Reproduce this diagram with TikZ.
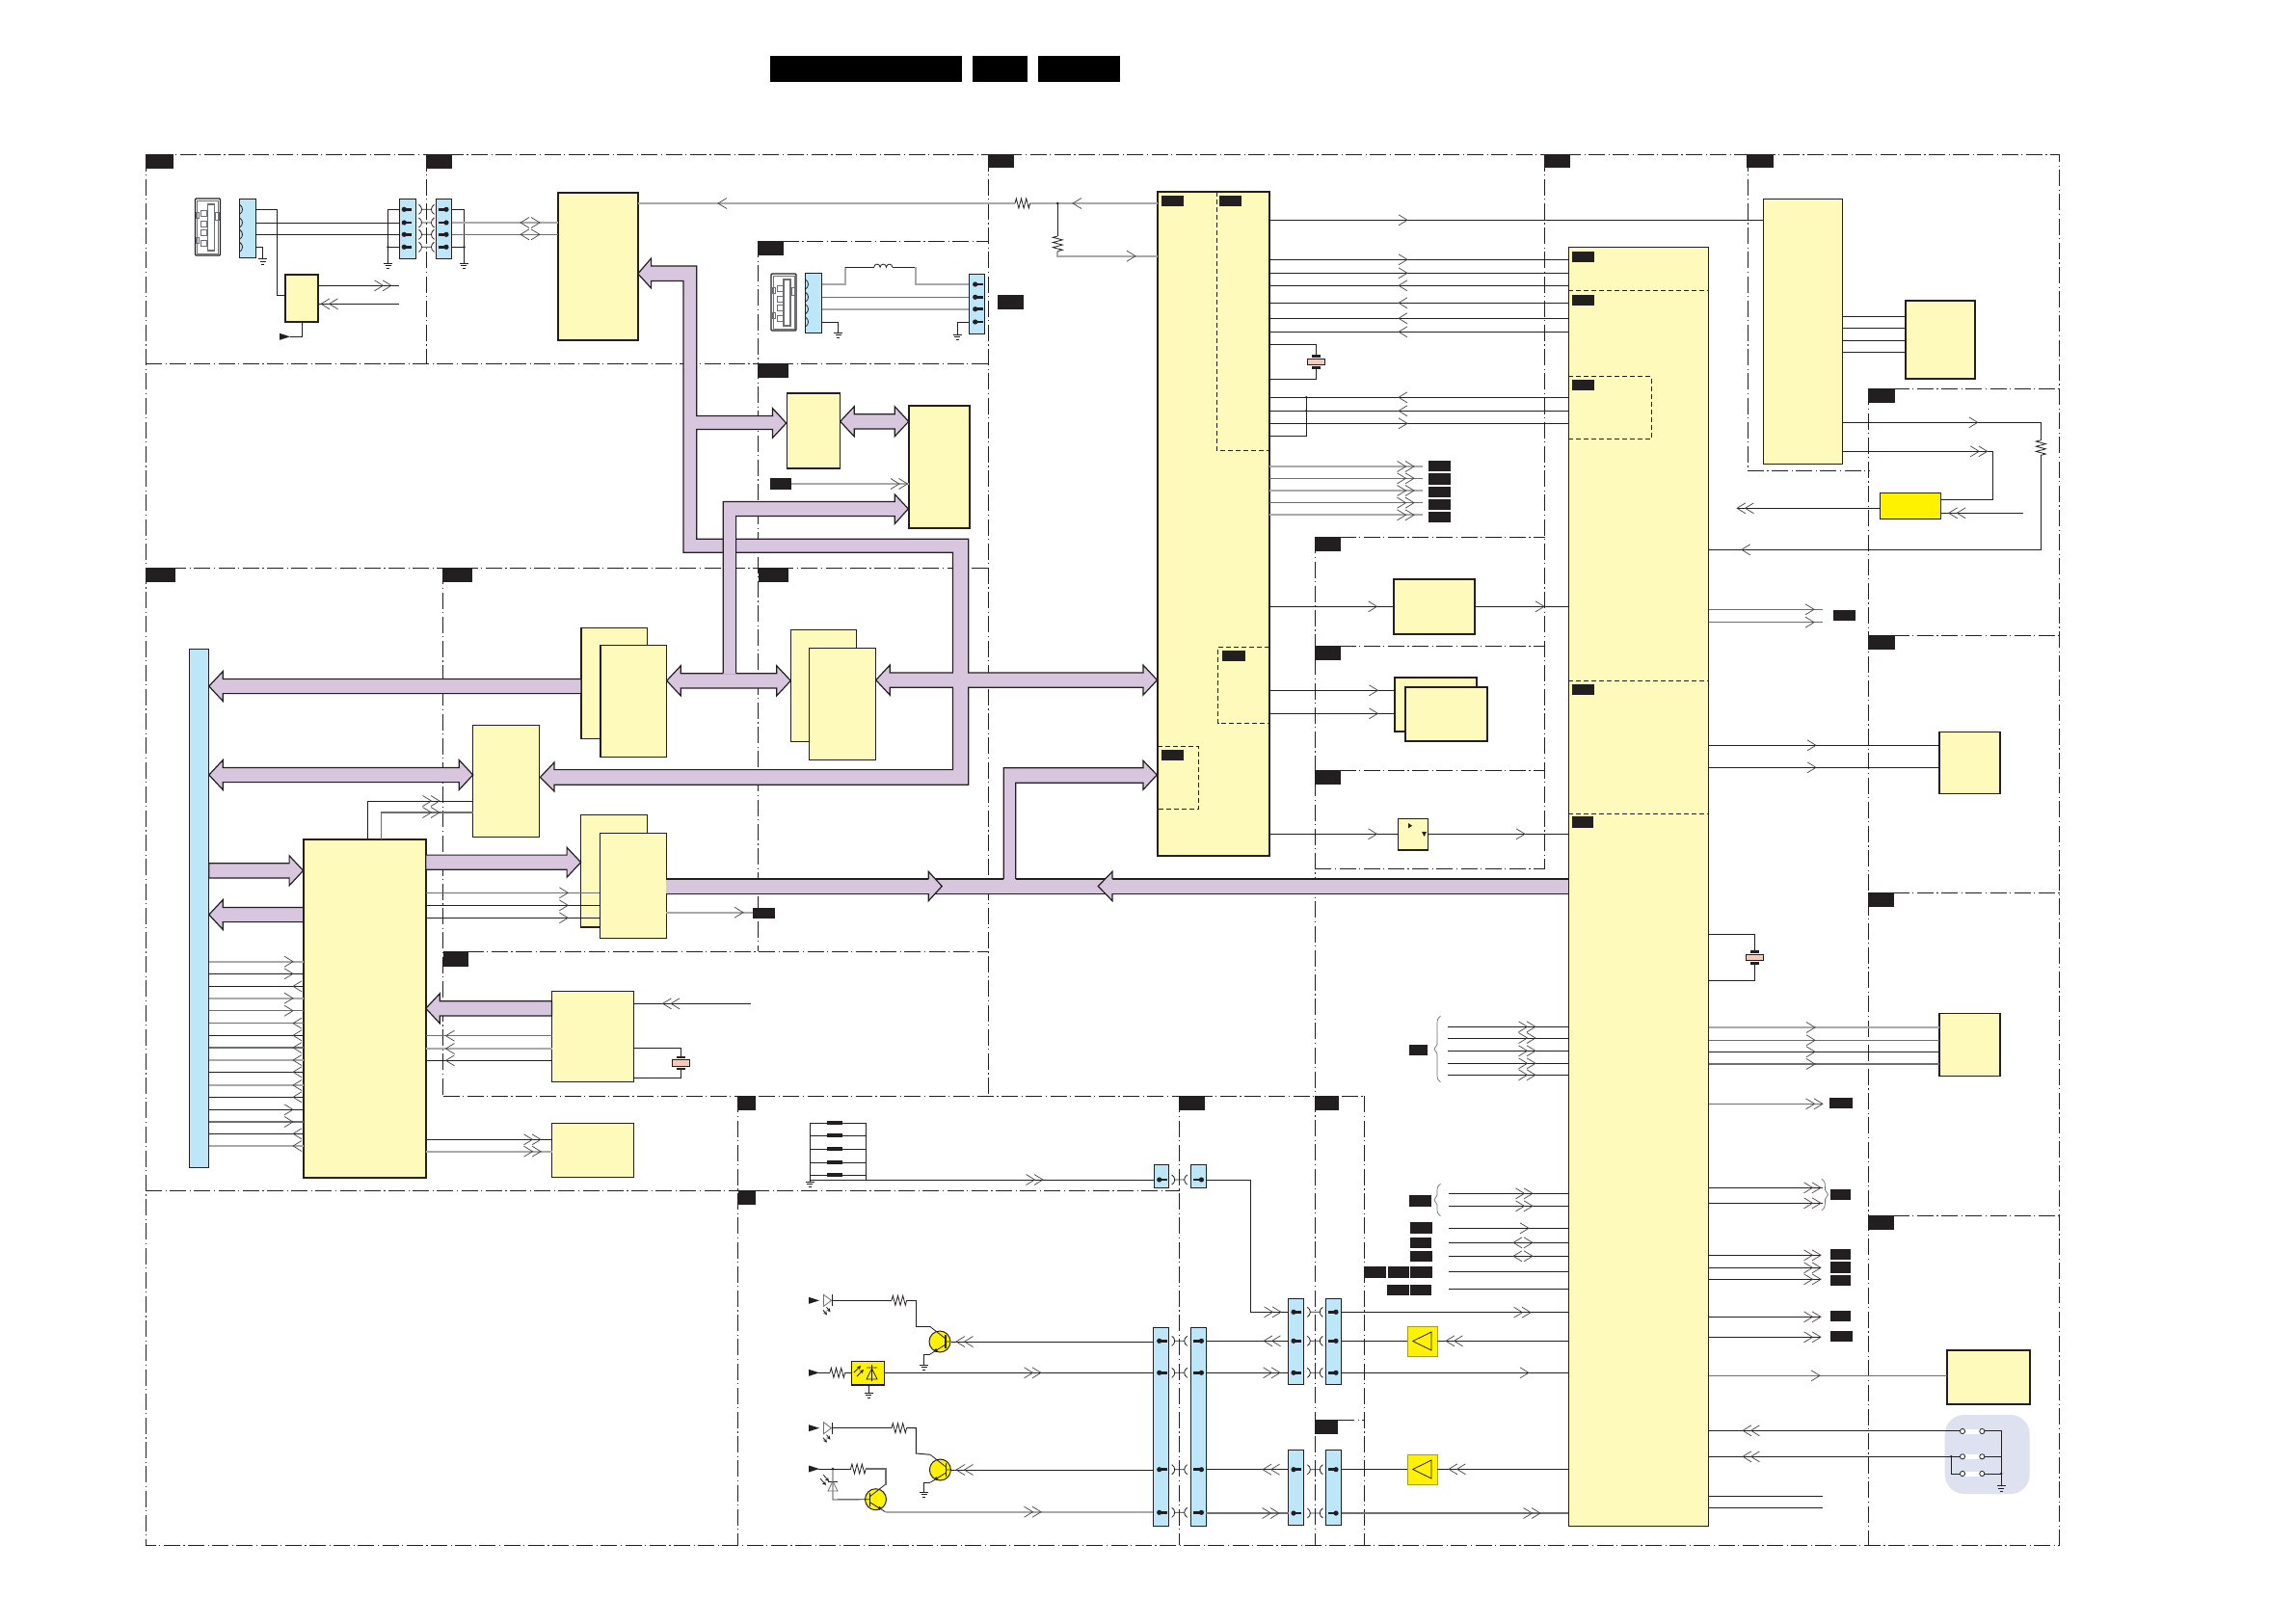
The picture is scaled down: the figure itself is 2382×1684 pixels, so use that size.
\documentclass[tikz,border=0pt]{standalone}
\usetikzlibrary{calc}
\definecolor{ink}{HTML}{231F20}
\definecolor{pale}{HTML}{FEFABC}
\definecolor{skyb}{HTML}{BDE6F8}
\definecolor{busp}{HTML}{D8C6DF}
\definecolor{hotY}{HTML}{FFF200}
\definecolor{xtalc}{HTML}{F9C9B5}
\definecolor{swbg}{HTML}{DDE1F0}
\definecolor{gw1}{HTML}{A7A9AC}
\definecolor{gw2}{HTML}{6D6E71}
\tikzset{
 zone/.style={line width=1pt,color=ink,dash pattern=on 17pt off 3.5pt on 1.2pt off 3.5pt},
 dsh/.style={line width=0.9pt,color=ink,dash pattern=on 5pt off 3pt},
 wire/.style={line width=0.95pt,color=ink,line join=miter},
 gw/.style={line width=1.8pt,color=gw1},
 mw/.style={line width=1.2pt,color=gw2},
 chev/.style={line width=0.7pt,color=ink!85},
 ic/.style={draw=ink,fill=pale,line width=1.3pt},
 icb/.style={draw=ink,fill=pale,line width=2pt},
 conn/.style={draw=ink,fill=skyb,line width=1pt},
 hotb/.style={draw=ink,fill=hotY,line width=1.5pt},
 ampb/.style={draw=ink!40!hotY,fill=hotY,line width=0.8pt},
 lab/.style={fill=ink},
 ttl/.style={fill=black},
 fat/.style={draw=ink,fill=busp,line width=1.2pt,line join=miter},
 fatline/.style={draw=ink,line width=1.2pt,line join=miter},
 trans/.style={circle,draw=ink,fill=hotY,line width=1pt,minimum size=22pt,inner sep=0pt},
 small/.style={line width=0.8pt,color=ink}
}
\newcount\fc \fc=0
\newcount\lc \lc=0
\def\bx#1#2#3#4#5#6{\pgfmathsetmacro\bw{#5-#3}\pgfmathsetmacro\bh{#6-#4}\node[#2,anchor=north west,minimum width=\bw pt,minimum height=\bh pt,inner sep=0pt,outer sep=0pt] (#1) at (#3,#4) {};}
\def\lb#1#2#3#4{\global\advance\lc by 1 \bx{lb\the\lc}{lab}{#1}{#2}{#3}{#4}}
\def\hw#1#2#3#4{\draw[#1] (#2 |- 0,#4) -- (#3 |- 0,#4);}
\def\hf#1#2#3#4{\global\advance\fc by 1 \coordinate (f\the\fc) at (#3,#4); \draw[#1] (#2 |- 0,#4) -- (f\the\fc);}
\def\chR#1#2{\draw[chev] (#1,#2) ++(-9,-5.5) -- (#1,#2) -- ++(-9,5.5);}
\def\chL#1#2{\draw[chev] (#1,#2) ++(9,-5.5) -- (#1,#2) -- ++(9,5.5);}
\def\chRR#1#2{\chR{#1}{#2}\chR{#1-8.5}{#2}}
\def\chLL#1#2{\chL{#1}{#2}\chL{#1+8.5}{#2}}
\def\chD#1#2{\chL{#1-10}{#2}\chR{#1+10}{#2}}
\def\gnd#1#2{\draw[small] (#1-4.5,#2) -- (#1+4.5,#2) (#1-3,#2+2.7) -- (#1+3,#2+2.7) (#1-1.5,#2+5.4) -- (#1+1.5,#2+5.4);}
\def\pinA#1#2{\fill[ink] (#1,#2) circle[radius=2.6pt]; \draw[ink,line width=2.6pt] (#1,#2) -- ++(8,0);}
\def\pinB#1#2{\fill[ink] (#1,#2) circle[radius=2.6pt]; \draw[ink,line width=2.6pt] (#1,#2) -- ++(-8,0);}
\def\xc#1#2{\draw[small] (#1-8,#2-5) .. controls (#1-4,#2-3) and (#1-4,#2+3) .. (#1-8,#2+5) (#1+8,#2-5) .. controls (#1+4,#2-3) and (#1+4,#2+3) .. (#1+8,#2+5) (#1-5,#2) -- (#1+5,#2);}
\def\sock#1#2{\draw[small] (#1,#2-5) .. controls (#1+4,#2-3) and (#1+4,#2+3) .. (#1,#2+5);}
\def\resh#1#2{\draw[small] (#1,#2) -- ++(1.3,-5) -- ++(2.6,10) -- ++(2.6,-10) -- ++(2.6,10) -- ++(2.6,-10) -- ++(2.6,10) -- ++(1.3,-5);}
\def\resv#1#2{\draw[small] (#1,#2) -- ++(-5,1.3) -- ++(10,2.6) -- ++(-10,2.6) -- ++(10,2.6) -- ++(-10,2.6) -- ++(10,2.6) -- ++(-5,1.3);}
\def\tri#1#2{\fill[ink] (#1,#2-3.5) -- (#1+11,#2) -- (#1,#2+3.5) -- cycle;}
\def\xtl#1#2{\draw[ink,line width=2.5pt] (#1-4.7,#2-6) -- (#1+4.7,#2-6) (#1-4.7,#2+6) -- (#1+4.7,#2+6);\draw[ink,fill=xtalc,line width=1pt] (#1-9.2,#2-3.3) rectangle (#1+9.2,#2+3.3);}
\def\brL#1#2#3{\draw[gw2,line width=0.7pt] (#1+6.5,#2) .. controls (#1+3.5,#2+2) and (#1+3,#2+4) .. (#1+3,#2+8) -- (#1+3,{(#2+#3)/2-5}) -- (#1,{(#2+#3)/2}) -- (#1+3,{(#2+#3)/2+5}) -- (#1+3,#3-8) .. controls (#1+3,#3-4) and (#1+3.5,#3-2) .. (#1+6.5,#3);}
\def\brR#1#2#3{\draw[gw2,line width=0.7pt] (#1-6.5,#2) .. controls (#1-3.5,#2+2) and (#1-3,#2+4) .. (#1-3,#2+8) -- (#1-3,{(#2+#3)/2-5}) -- (#1,{(#2+#3)/2}) -- (#1-3,{(#2+#3)/2+5}) -- (#1-3,#3-8) .. controls (#1-3,#3-4) and (#1-3.5,#3-2) .. (#1-6.5,#3);}
\def\usb#1#2{%
 \draw[ink,fill=white,line width=1.2pt,rounded corners=1pt] (#1,#2) rectangle (#1+26,#2+59);
 \draw[gw2,line width=0.7pt] (#1+2,#2+2) rectangle (#1+24,#2+57);
 \draw[gw2,fill=white,line width=1.4pt] (#1+13,#2+6) rectangle (#1+20,#2+54);
 \draw[gw2,line width=0.7pt] (#1+1,#2+14) rectangle (#1+4,#2+20) (#1+1,#2+40) rectangle (#1+4,#2+46) (#1+6,#2+12) rectangle (#1+12,#2+18) (#1+6,#2+23) rectangle (#1+12,#2+29) (#1+6,#2+32) rectangle (#1+12,#2+38) (#1+6,#2+43) rectangle (#1+12,#2+49) (#1+21,#2+14) rectangle (#1+25,#2+22);}
\def\led#1#2{%
 \draw[gw2,line width=0.8pt] (#1,#2-6) -- (#1+8,#2) -- (#1,#2+6) -- cycle;
 \draw[ink,line width=1pt] (#1+9,#2-6) -- (#1+9,#2+6);
 \draw[small,-stealth] (#1+3,#2+7) -- (#1+7,#2+12);
 \draw[small,-stealth] (#1-0.5,#2+10) -- (#1+3.5,#2+15);}
\def\trn#1#2#3#4{%
 \node[trans] (#1) at (#2,#3) {};
 \draw[ink,line width=1.2pt] (#2+6*#4,#3-7) -- (#2+6*#4,#3+7);
 \draw[small] (#2+6*#4,#3-3) -- (#2-10*#4,#3-15.5) (#2+6*#4,#3+3) -- (#2-10*#4,#3+13) (#2+6*#4,#3) -- (#2+11*#4,#3);
 \fill[ink] (#2-4*#4,#3+9) circle[radius=1.8pt];}
\def\ampt#1#2{\draw[small] (#1+5.7,#2+15.5) -- (#1+25,#2+6) -- (#1+25,#2+25) -- cycle;}
\def\sw#1{\fill[white] (2036,#1-2.5) rectangle (2056,#1+2.5);
 \draw[small,fill=white] (2036,#1) circle[radius=2.6pt] (2056.3,#1) circle[radius=2.6pt];}
\def\fatR#1#2#3{\path (#1 |- 0,#3) coordinate (p) (#2 |- 0,#3) coordinate (q);
 \draw[fat] ($(p)+(0,-7.6)$) -- ($(q)+(-14.5,-7.6)$) -- ($(q)+(-14.5,-15.5)$) -- (q) -- ($(q)+(-14.5,15.5)$) -- ($(q)+(-14.5,7.6)$) -- ($(p)+(0,7.6)$) -- cycle;}
\def\fatL#1#2#3{\path (#1 |- 0,#3) coordinate (p) (#2 |- 0,#3) coordinate (q);
 \draw[fat] ($(q)+(0,-7.6)$) -- ($(p)+(14.5,-7.6)$) -- ($(p)+(14.5,-15.5)$) -- (p) -- ($(p)+(14.5,15.5)$) -- ($(p)+(14.5,7.6)$) -- ($(q)+(0,7.6)$) -- cycle;}
\def\fatD#1#2#3{\path (#1 |- 0,#3) coordinate (p) (#2 |- 0,#3) coordinate (q);
 \draw[fat] (p) -- ($(p)+(14.5,-15.5)$) -- ($(p)+(14.5,-7.6)$) -- ($(q)+(-14.5,-7.6)$) -- ($(q)+(-14.5,-15.5)$) -- (q) -- ($(q)+(-14.5,15.5)$) -- ($(q)+(-14.5,7.6)$) -- ($(p)+(14.5,7.6)$) -- ($(p)+(14.5,15.5)$) -- cycle;}
\begin{document}
\begin{tikzpicture}[x=1pt,y=-1pt]
\useasboundingbox (0,0) rectangle (2382,1684);
\fill[white] (0,0) rectangle (2382,1684);
% title
\bx{t1}{ttl}{799}{58}{998}{85}\bx{t2}{ttl}{1009}{58}{1066}{85}\bx{t3}{ttl}{1077}{58}{1162}{85}
% zones
\draw[zone] (151,160.5) rectangle (2136.5,1603.3);
\draw[zone] (151,377.5) -- (1025.5,377.5) (442.5,160.5) -- (442.5,377.5) (1025.5,160.5) -- (1025.5,1137.3);
\draw[zone] (1602.5,160.5) -- (1602.5,901.3) (1813,160.5) -- (1813,488.3) -- (1939,488.3);
\draw[zone] (1938.5,403.3) -- (1938.5,1603.3) (1938.5,403.3) -- (2136.5,403.3) (1938.5,659) -- (2136.5,659) (1938.5,926) -- (2136.5,926) (1938.5,1261.3) -- (2136.5,1261.3);
\draw[zone] (786.6,250) -- (1025.5,250) (786.6,250) -- (786.6,987.3);
\draw[zone] (151,589.3) -- (1025.5,589.3) (459.5,589.3) -- (459.5,1137.3) (459.5,987.3) -- (1025.5,987.3);
\draw[zone] (459.5,1137.3) -- (1415.6,1137.3) (765.6,1137.3) -- (765.6,1603.3) (1223.7,1137.3) -- (1223.7,1603.3) (1415.6,1137.3) -- (1415.6,1603.3);
\draw[zone] (151,1235) -- (1223.7,1235) (1364.3,557.3) -- (1364.3,1603.3);
\draw[zone] (1364.3,557.3) -- (1602.5,557.3) (1364.3,670.3) -- (1602.5,670.3) (1364.3,799.3) -- (1602.5,799.3) (1364.3,901.3) -- (1602.5,901.3);
\draw[zone] (1388,1473) -- (1415.6,1473);
% boxes
\bx{U0}{icb}{578.6}{199.6}{662}{352.6}
\bx{pwr}{icb}{296.4}{284.6}{330}{333.6}
\bx{c0}{conn}{248}{206}{265}{267.7}
\bx{c1}{conn}{414}{206}{431}{268.7}
\bx{c2}{conn}{452.5}{206}{468.6}{268.7}
\bx{c3}{conn}{835}{283}{852.7}{345.7}
\bx{c4}{conn}{1005}{284}{1021.7}{346.7}
\bx{A}{ic}{816.7}{408}{871.7}{486}
\bx{B}{icb}{942.7}{421}{1006.3}{547.6}
\bx{stAb}{ic}{603}{651.3}{671.6}{766.3}
\bx{stAf}{ic}{622.9}{669.6}{691.7}{785.7}
\bx{stBb}{ic}{820.3}{653.5}{888.8}{769.6}
\bx{stBf}{ic}{839.8}{672.8}{908.7}{788.5}
\bx{stCb}{ic}{602.6}{845.6}{671.2}{962}
\bx{stCf}{ic}{622.4}{864.6}{691.4}{973.6}
\bx{M}{ic}{490.7}{752.3}{559.3}{868.6}
\bx{IC3}{icb}{314.6}{871}{441.8}{1222.3}
\bx{tun}{ic}{572.5}{1028.6}{657.5}{1122.6}
\bx{low}{ic}{572.5}{1165.6}{657.5}{1221.6}
\bx{bar}{conn}{196.4}{673.3}{216.8}{1211.6}
\bx{IC1}{icb}{1200.5}{199}{1317}{888.3}
\bx{IC2}{ic}{1627.3}{256.6}{1772.5}{1583.6}
\bx{R1}{ic}{1829.3}{206.6}{1911.7}{481.3}
\bx{R2}{icb}{1977.3}{312.3}{2049.3}{392.6}
\bx{Y1}{hotb}{1950.7}{511.6}{2013.3}{538.6}
\bx{R3}{ic}{2012}{759.5}{2075}{823.5}
\bx{R4}{ic}{2012}{1051.5}{2075}{1116.5}
\bx{R5}{icb}{2020.3}{1400.8}{2106.2}{1457}
\bx{P}{icb}{1445.8}{601}{1530.4}{657.6}
\bx{Qb}{icb}{1446.7}{702.6}{1531.7}{758.6}
\bx{Qf}{icb}{1458}{712.6}{1543.4}{769}
\bx{S}{ic}{1450.6}{849.6}{1481.4}{882}
\fill[ink] (1461,854) -- (1465,856.7) -- (1461,859.4) -- cycle;
\fill[ink] (1475,863) -- (1480,863) -- (1477.5,868) -- cycle;
\bx{ta}{conn}{1197}{1208}{1212.5}{1232}
\bx{tb}{conn}{1235.3}{1208}{1251.3}{1232}
\bx{tL}{conn}{1196.4}{1377.6}{1212.5}{1583}
\bx{tR}{conn}{1235.3}{1377.6}{1251.3}{1583}
\bx{m1}{conn}{1336.6}{1347.6}{1352.7}{1436}
\bx{m2}{conn}{1375.4}{1347.6}{1391.5}{1436}
\bx{m3}{conn}{1336.6}{1504.6}{1352.7}{1582}
\bx{m4}{conn}{1375.4}{1504.6}{1391.5}{1582}
\bx{amp1}{ampb}{1460}{1376.3}{1491}{1407.3}\ampt{1460}{1376}
\bx{amp2}{ampb}{1460}{1509.6}{1491}{1540}\ampt{1460}{1509}
\bx{PD}{hotb}{883.5}{1412.6}{917.4}{1437}
\draw[small] (899,1419) -- (910,1419) (904.5,1416) -- (904.5,1433) (904.5,1420) -- (899,1431) -- (910,1431) -- cycle;
\draw[small,-stealth] (889,1428) -- (896,1421);
\draw[small,-stealth] (886,1424) -- (893,1417);
% fat buses
\draw[fat] (661.8,284) -- (675.6,268) -- (675.6,276) -- (722.7,276) -- (722.7,431.4) -- (801.5,431.4) -- (801.5,423.6) -- (815.7,439) -- (801.5,454.3) -- (801.5,445.4) -- (722.7,445.4) -- (722.7,559.3) -- (1004.7,559.3) -- (1004.7,814.3) -- (575,814.3) -- (575,821) -- (560.5,806.4) -- (575,791) -- (575,798.6) -- (988.4,798.6) -- (988.4,573.2) -- (709,573.2) -- (709,291.4) -- (675.6,291.4) -- (675.6,299) -- cycle;
\fatD{A.east}{B.west}{437.3}
\fatD{stAf.east}{stBb.west}{706.3}
\fill[busp] (750.2,699.5) -- (750.2,520.4) -- (928.2,520.4) -- (928.2,512.9) -- (942.3,527.9) -- (928.2,543.6) -- (928.2,535.4) -- (763.6,535.4) -- (763.6,699.5) -- cycle;
\draw[fatline] (750.2,698.6) -- (750.2,520.4) -- (928.2,520.4) -- (928.2,512.9) -- (942.3,527.9) -- (928.2,543.6) -- (928.2,535.4) -- (763.6,535.4) -- (763.6,698.6);
\fatD{stBf.east}{IC1.west}{705.6}
\fill[busp] (989,697) rectangle (1004.1,714.2);
\fatL{bar.east}{stAb.west}{712}
\fatD{bar.east}{M.west}{804}
\fatR{bar.east}{IC3.west}{903.3}
\fatL{bar.east}{IC3.west}{949}
\fatR{IC3.east}{stCb.west}{894.7}
\fatL{IC3.east}{tun.west}{1046.3}
% bottom bus: one strip, two heads, branch upward
\fill[busp] (691.4,911.9) rectangle (1627.3,927.1);
\draw[fatline] (691.4,911.9) -- (1627.3,911.9) (691.4,927.1) -- (1627.3,927.1);
\draw[fat] (963.3,911.9) -- (963.3,904.3) -- (977.2,919.5) -- (963.3,934.7) -- (963.3,927.1);
\draw[fat] (1154,911.9) -- (1154,904.3) -- (1139.3,919.5) -- (1154,934.7) -- (1154,927.1);
\fill[busp] (1041.2,914) -- (1041.2,796.7) -- (1186,796.7) -- (1186,789.3) -- (1200.3,804) -- (1186,819.3) -- (1186,812.3) -- (1053.8,812.3) -- (1053.8,914) -- cycle;
\draw[fatline] (1041.2,912) -- (1041.2,796.7) -- (1186,796.7) -- (1186,789.3) -- (1200.3,804) -- (1186,819.3) -- (1186,812.3) -- (1053.8,812.3) -- (1053.8,912);
% dashed inside ICs
\draw[dsh] (1262,199) -- (1262,467) -- (1317,467);
\draw[dsh] (1317,671.3) -- (1263.7,671.3) -- (1263.7,750.3) -- (1317,750.3);
\draw[dsh] (1200.5,774.3) -- (1243.3,774.3) -- (1243.3,839.3) -- (1200.5,839.3);
\draw[dsh] (1627.3,301.3) -- (1772.5,301.3) (1627.3,390.3) -- (1713,390.3) -- (1713,455.3) -- (1627.3,455.3);
\draw[dsh] (1627.3,706.3) -- (1772.5,706.3) (1627.3,844.3) -- (1772.5,844.3);
% labels
\lb{151}{160}{180}{175}\lb{442.5}{160}{469}{175}\lb{1025}{160}{1052}{174}\lb{1602}{160}{1629}{174}\lb{1812}{160}{1840}{174}
\lb{786.6}{250}{813}{265}\lb{786.6}{377}{818}{392}\lb{786.6}{589.3}{818}{603.6}\lb{151}{589}{182}{604}\lb{459}{589}{490}{604}
\lb{1938}{403}{1966}{418}\lb{1938}{659}{1966}{674}\lb{1938}{926}{1965}{941}\lb{1938}{1261}{1965}{1276}
\lb{765.6}{1137}{784}{1152}\lb{765.6}{1235}{784}{1250}\lb{1223}{1137}{1250}{1152}\lb{1364}{1137}{1389}{1152}\lb{459.6}{987.3}{486}{1002.7}
\lb{1364.3}{557.3}{1390.8}{572}\lb{1364.3}{670.3}{1390.8}{685}\lb{1364.3}{799.3}{1390.8}{814}\lb{1364}{1473}{1388}{1488}
\lb{1035}{306}{1062}{320.7}
\lb{1205}{203}{1228}{214}\lb{1265}{203}{1288}{214}\lb{1268}{675}{1292}{686}\lb{1205}{778}{1228}{789}
\lb{1630.7}{261}{1654}{271.7}\lb{1630.7}{306}{1654}{316.7}\lb{1630.7}{394}{1654}{405}\lb{1631}{710}{1654}{721}\lb{1631}{847.3}{1653}{859}
\lb{1482}{478}{1505}{489}\lb{1482}{491}{1505}{502.7}\lb{1482}{505}{1505}{516}\lb{1482}{518.3}{1505}{529.3}\lb{1482}{531}{1505}{541.7}
\lb{1902}{633}{1925}{644}\lb{1898}{1139}{1922}{1150}\lb{1899}{1234}{1920}{1245}
\lb{1899}{1296}{1920}{1306.7}\lb{1899}{1309}{1920}{1320.7}\lb{1899}{1323}{1920}{1334}\lb{1899}{1360}{1920}{1370.7}\lb{1899}{1381}{1922}{1391.7}
\lb{1462}{1084}{1481}{1095}\lb{1462}{1240}{1485}{1252}
\lb{1463}{1268.3}{1486}{1280}\lb{1463}{1284}{1485}{1295}\lb{1463}{1298}{1486}{1309}
\lb{1415.3}{1314}{1438}{1326}\lb{1440}{1314}{1462}{1326}\lb{1463}{1314}{1486}{1326}\lb{1439}{1333}{1462}{1344}\lb{1463}{1333}{1485}{1344}
\bx{lx}{lab}{799}{496}{821}{507.7}
\bx{ly}{lab}{781}{942}{803.8}{952.7}
% top-left wiring
\usb{202.5}{206}
\foreach \yy in {217.3,231,243.3,256.3} {\sock{248.5}{\yy}\pinA{419.3}{\yy}\pinB{463}{\yy}\xc{442.5}{\yy}}
\draw[wire] (c0.east |- 0,217.3) -- (287.5,217.3) -- (287.5,306.3) -- (pwr.west |- 0,306.3);
\hw{wire}{c0.east}{c1.west}{231}\hw{wire}{c0.east}{c1.west}{243.3}
\draw[wire] (c0.east |- 0,256.3) -- (272.5,256.3) -- (272.5,268.5); \gnd{272.5}{268.5}
\draw[wire] (c1.west |- 0,217.3) -- (402.5,217.3) -- (402.5,273) (c1.west |- 0,256.3) -- (402.5,256.3); \gnd{402.5}{273}
\draw[wire] (c2.east |- 0,217.3) -- (481.4,217.3) -- (481.4,273) (c2.east |- 0,256.3) -- (481.4,256.3); \gnd{481.4}{273}
\fill[ink] (402.5,256.3) circle[radius=1.4pt] (481.4,256.3) circle[radius=1.4pt];
\hw{gw}{c2.east}{U0.west}{231}\hw{mw}{c2.east}{U0.west}{243.3}\chD{550}{231}\chD{550}{243.3}
\hf{wire}{pwr.east}{414}{296.3}\chRR{406}{296.3}
\hf{wire}{pwr.east}{414}{315.3}\chLL{333}{315.3}
\coordinate (pwrT) at (301,349.3);
\draw[wire] (pwr.south |- 0,333.3) -- ++(0,16) -- (pwrT); \tri{290}{349.3}
% USB 2
\usb{800}{284}
\foreach \yy in {295,308.3,320.7,334} {\sock{835.5}{\yy}\pinA{1011.7}{\yy}}
\draw[gw] (c3.east |- 0,295) -- (877,295) -- (877,277.3);
\draw[wire,line width=0.9pt] (877,277.3) -- (906.7,277.3);
\draw[small] (906.7,277.3) arc[start angle=180,end angle=0,radius=3.2pt] arc[start angle=180,end angle=0,radius=3.2pt] arc[start angle=180,end angle=0,radius=3.2pt];
\draw[wire,line width=0.9pt] (926,277.3) -- (950,277.3);
\draw[gw] (950,277.3) -- (950,295) -- (c4.west |- 0,295);
\hw{mw}{c3.east}{c4.west}{308.3}\hw{gw}{c3.east}{c4.west}{320.7}
\draw[wire] (c3.east |- 0,334) -- (869.7,334) -- (869.7,345); \gnd{869.7}{345}
\draw[wire] (c4.west |- 0,334) -- (993,334) -- (993,347); \gnd{993}{347}
\hw{gw}{lx.east}{B.west}{502}\chRR{941.5}{502}
% U0 to IC1
\coordinate (r0a) at (1053,211);\coordinate (r0b) at (1068.6,211);
\draw[gw] (U0.east |- 0,211) -- (r0a);\resh{1053}{211}\draw[gw] (r0b) -- (IC1.west |- 0,211);
\chL{745}{211}\chL{1113}{211}
\fill[ink] (1097.3,211) circle[radius=1.4pt];
\draw[small] (1097.3,211) -- (1097.3,245);\resv{1097.3}{245}
\draw[gw] (1097.3,260.6) -- (1097.3,265.7) -- (IC1.west |- 0,265.7);\chR{1178}{265.7}
% IC1 to right
\hw{wire}{IC1.east}{R1.west}{228.3}\chR{1460}{228.3}
\hw{wire}{IC1.east}{IC2.west}{269.3}\chR{1460}{269.3}
\hw{wire}{IC1.east}{IC2.west}{283.3}\chR{1460}{283.3}
\hw{wire}{IC1.east}{IC2.west}{296.3}\chL{1451}{296.3}
\hw{wire}{IC1.east}{IC2.west}{314.3}\chL{1451}{314.3}
\hw{wire}{IC1.east}{IC2.west}{330.3}\chL{1451}{330.3}
\hw{wire}{IC1.east}{IC2.west}{344.3}\chL{1451}{344.3}
\draw[wire] (IC1.east |- 0,357.3) -- (1365.7,357.3) -- (1365.7,369);\draw[wire] (1365.7,381) -- (1365.7,393.3) -- (IC1.east |- 0,393.3);\xtl{1365.7}{375.3}
\hw{wire}{IC1.east}{IC2.west}{412.3}\chL{1451}{412.3}
\hw{wire}{IC1.east}{IC2.west}{426.3}\chL{1451}{426.3}
\hw{wire}{IC1.east}{IC2.west}{439.3}\chR{1460}{439.3}
\draw[wire] (IC1.east |- 0,452.3) -- (1355.3,452.3) -- (1355.3,412.3);
\fill[ink] (1355.3,412.3) circle[radius=1.4pt] (1355.3,426.3) circle[radius=1.4pt];
\foreach \yy/\st in {484/gw,496.3/mw,509/gw,521.7/mw,534.3/gw} {\hf{\st}{IC1.east}{1475.7}{\yy}\chRR{1467}{\yy}}
\hw{wire}{IC1.east}{P.west}{629.3}\chR{1428.5}{629.3}
\hw{wire}{P.east}{IC2.west}{629.3}\chR{1602}{629.3}
\hw{wire}{IC1.east}{Qb.west}{716.3}\chR{1429.4}{716.3}
\hw{wire}{IC1.east}{Qb.west}{740.3}\chR{1429.4}{740.3}
\hw{wire}{IC1.east}{S.west}{865.3}\chR{1428.5}{865.3}
\hw{wire}{S.east}{IC2.west}{865.3}\chR{1582}{865.3}
% R1 area
\hw{wire}{R1.east}{R2.west}{328.3}\hw{wire}{R1.east}{R2.west}{340.3}\hw{wire}{R1.east}{R2.west}{353.3}\hw{wire}{R1.east}{R2.west}{365.3}
\draw[wire] (R1.east |- 0,438.3) -- (2117.3,438.3) -- (2117.3,456.7);\resv{2117.3}{456.7}
\draw[wire] (2117.3,472) -- (2117.3,570.3) -- (IC2.east |- 0,570.3);
\chR{2051.7}{438.3}\chL{1806.7}{570.3}
\draw[wire] (R1.east |- 0,468.3) -- (2067.7,468.3) -- (2067.7,518.3) -- (Y1.east |- 0,518.3);\chRR{2061.7}{468.3}
\hf{wire}{Y1.east}{2099}{532.3}\chLL{2021.7}{532.3}
\hf{wire}{Y1.west}{1801.7}{527.3}\chLL{1802}{527.3}
% IC2 right side
\hf{mw}{IC2.east}{1891}{632.3}\chR{1882}{632.3}
\hf{mw}{IC2.east}{1891}{645.7}\chR{1882}{645.7}
\hw{wire}{IC2.east}{R3.west}{773.3}\chR{1884}{773.3}
\hw{wire}{IC2.east}{R3.west}{796.3}\chR{1884}{796.3}
\draw[wire] (IC2.east |- 0,969.3) -- (1820.6,969.3) -- (1820.6,987);\draw[wire] (1820.6,1000) -- (1820.6,1017.3) -- (IC2.east |- 0,1017.3);\xtl{1820.6}{993.5}
\hw{gw}{IC2.east}{R4.west}{1066}\chR{1883}{1066}
\hw{mw}{IC2.east}{R4.west}{1079.3}\chR{1883}{1079.3}
\hw{wire}{IC2.east}{R4.west}{1091.3}\chR{1883}{1091.3}
\hw{mw}{IC2.east}{R4.west}{1104}\chR{1883}{1104}
\hf{mw}{IC2.east}{1891}{1145.3}\chRR{1891}{1145.3}
\hf{wire}{IC2.east}{1891}{1232.3}\chRR{1889}{1232.3}
\hf{wire}{IC2.east}{1891}{1248.3}\chRR{1889}{1248.3}
\brR{1896.4}{1223.3}{1255.7}
\foreach \yy in {1302.3,1315.3,1327.3,1366.3,1387.3} {\hf{wire}{IC2.east}{1889}{\yy}\chRR{1889}{\yy}}
\hw{mw}{IC2.east}{R5.west}{1427.3}\chR{1888}{1427.3}
\hf{wire}{IC2.east}{1891}{1552.3}\hf{wire}{IC2.east}{1891}{1564}
% switches
\fill[swbg,rounded corners=20pt] (2017.7,1468) rectangle (2105.7,1550);
\coordinate (s1) at (2036,1484.3);\coordinate (s2) at (2036,1511.3);
\draw[wire] (IC2.east |- 0,1484.3) -- (s1);\draw[wire] (IC2.east |- 0,1511.3) -- (s2);
\chLL{1808}{1484.3}\chLL{1808}{1511.3}
\draw[wire] (2056.3,1484.3) -- (2076.3,1484.3) -- (2076.3,1541.7) (2056.3,1511.3) -- (2076.3,1511.3) (2056.3,1529) -- (2076.3,1529) (2024.3,1511.3) -- (2024.3,1529.3) -- (2036,1529.3);
\fill[ink] (2076.3,1529) circle[radius=1.4pt] (2024.3,1511.3) circle[radius=1.4pt];
\gnd{2076.3}{1541.7}
\sw{1485}\sw{1511.3}\sw{1529}
% IC2 left inputs
\foreach \yy in {1065.3,1077,1090.3,1103.3,1115.3} {\hf{wire}{IC2.west}{1502}{\yy}\chRR{1593}{\yy}}
\brL{1488}{1054.3}{1122.7}
\foreach \yy in {1238.3,1251.3} {\hf{wire}{IC2.west}{1503}{\yy}\chRR{1590}{\yy}}
\brL{1488}{1228.3}{1261.7}
\hf{wire}{IC2.west}{1503}{1274.3}\chR{1586}{1274.3}
\hf{wire}{IC2.west}{1503}{1289.3}\chD{1580}{1289.3}
\hf{wire}{IC2.west}{1503}{1303.3}\chD{1580}{1303.3}
\hf{wire}{IC2.west}{1503}{1319.3}\hf{wire}{IC2.west}{1503}{1337.3}
% connectors bottom
\foreach \yy in {1361.3,1391.3,1424.3} {\pinA{1342}{\yy}\pinB{1386}{\yy}\xc{1364.3}{\yy}}
\foreach \yy in {1524.7,1570} {\pinA{1342}{\yy}\pinB{1386}{\yy}\xc{1364.3}{\yy}}
\foreach \yy in {1391.3,1424.3,1524.7,1569.3} {\pinA{1202.7}{\yy}\pinB{1246.4}{\yy}\xc{1223.7}{\yy}}
\pinA{1202.7}{1224}\pinB{1246.4}{1224}\xc{1223.7}{1224}
\hw{wire}{tR.east}{m1.west}{1391.3}\chLL{1311}{1391.3}
\hw{wire}{tR.east}{m1.west}{1424.3}\chRR{1328}{1424.3}
\hw{wire}{tR.east}{m3.west}{1524.7}\chLL{1310}{1524.7}
\hw{mw}{tR.east}{m3.west}{1570}\chRR{1327}{1570}
\draw[wire] (tb.east |- 0,1224) -- (1297.8,1224) -- (1297.8,1361.3) -- (m1.west |- 0,1361.3);\chRR{1329}{1361.3}
\hw{wire}{m2.east}{IC2.west}{1361.7}\chRR{1588}{1361.7}
\hw{wire}{m2.east}{amp1.west}{1391.3}\hw{wire}{amp1.east}{IC2.west}{1391.3}\chLL{1500}{1391.3}
\hw{wire}{m2.east}{IC2.west}{1424.3}\chR{1586}{1424.3}
\hw{wire}{m4.east}{amp2.west}{1524.3}\hw{wire}{amp2.east}{IC2.west}{1524.3}\chLL{1503}{1524.3}
\hw{mw}{m4.east}{IC2.west}{1570}\chRR{1598}{1570}
% sensors
\trn{T1}{975}{1392}{1}
\trn{T2}{975.4}{1525}{1}
\trn{T3}{908.5}{1555.7}{-1}
\hw{wire}{T1.east}{tL.west}{1392}\chLL{992}{1392}
\hw{wire}{T2.east}{tL.west}{1525}\chLL{992}{1525}
\hw{wire}{PD.east}{tL.west}{1424.3}\chRR{1080}{1424.3}
\draw[gw] (918.5,1568.7) -- (tL.west |- 0,1568.7);\chRR{1080}{1568.7}
\tri{839}{1349.3}\led{854.5}{1349.3}
\draw[wire] (863.5,1349.3) -- (925,1349.3);\resh{925}{1349.3}
\draw[wire] (940.6,1349.3) -- (950.4,1349.3) -- (950.4,1376.3) -- (965,1376.3);
\draw[wire] (965,1405) -- (958.5,1405) -- (958.5,1416);\gnd{958.5}{1416}
\tri{839}{1424.3}\draw[wire] (849,1424.3) -- (861,1424.3);\resh{861}{1424.3}\draw[wire] (876.6,1424.3) -- (PD.west |- 0,1424.3);
\draw[wire] (901,1436.7) -- (901,1445);\gnd{901}{1445}
\tri{839}{1481.7}\led{854.5}{1481.7}
\draw[wire] (863.5,1481.7) -- (925,1481.7);\resh{925}{1481.7}
\draw[wire] (940.6,1481.7) -- (950.4,1481.7) -- (950.4,1508) -- (965.4,1509.3);
\draw[wire] (965.4,1538) -- (958.5,1538) -- (958.5,1548);\gnd{958.5}{1548}
\tri{839}{1524}\draw[wire] (849,1524) -- (882.6,1524);\resh{882.6}{1524}
\draw[mw] (898.2,1524) -- (919,1524) -- (919,1540.7);
\draw[wire] (864,1524) -- (864,1556) -- (897.5,1555.7);
\fill[ink] (864,1524) circle[radius=1.4pt];
\draw[ink,line width=1pt] (859,1537) -- (869,1537);\draw[gw2,line width=0.8pt] (864,1537) -- (859,1547) -- (869,1547) -- cycle;
\draw[small,-stealth] (851,1534) -- (857,1541);\draw[small,-stealth] (854,1530) -- (860,1537);
% stacked parts
\foreach \yy in {1165,1178,1192,1206,1219} {\draw[small] (840,\yy) -- (898,\yy);\draw[ink,line width=3.4pt] (858,\yy) -- (874,\yy);}
\draw[small] (840,1165) -- (840,1226) (898,1165) -- (898,1224);\gnd{840}{1226}
\draw[wire] (840,1224) -- (ta.west |- 0,1224);\chRR{1082}{1224}
% IC3
\foreach \yy/\st/\dd in {997.7/gw/R,1010.3/wire/R,1023.3/wire/L,1035.7/gw/R,1048.7/mw/R,1061.7/mw/L,1074.3/wire/L,1087/mw/L,1100/gw/L,1112.3/wire/L,1126/gw/L,1138.3/wire/L,1151.3/wire/R,1164/mw/R,1176.3/wire/L,1189/gw/L} {\hw{\st}{bar.east}{IC3.west}{\yy}\csname ch\dd\endcsname{\ifx\dd L228\else 304\fi}{\yy}}
\draw[wire] (381.8,870.7) -- (381.8,831) -- (M.west |- 0,831);\chRR{456}{831}
\draw[mw] (395.4,870.7) -- (395.4,843) -- (M.west |- 0,843);\chRR{456}{843}
\hw{mw}{IC3.east}{stCf.west}{926.3}\chR{589.3}{926.3}
\hw{wire}{IC3.east}{stCf.west}{939.3}\chR{589.3}{939.3}
\hw{wire}{IC3.east}{stCf.west}{952.3}\chR{589.3}{952.3}
\hw{gw}{stCf.east}{ly.west}{946.7}\chR{771}{946.7}
\hf{wire}{tun.east}{779}{1041.3}\chLL{687.5}{1041.3}
\draw[wire] (tun.east |- 0,1087.3) -- (706.4,1087.3) -- (706.4,1097);\draw[wire] (706.4,1109) -- (706.4,1118.3) -- (tun.east |- 0,1118.3);\xtl{706.4}{1103}
\hw{mw}{IC3.east}{tun.west}{1074.7}\chL{462.5}{1074.7}
\hw{gw}{IC3.east}{tun.west}{1088}\chL{462.5}{1088}
\hw{wire}{IC3.east}{tun.west}{1100.3}\chL{462.5}{1100.3}
\hw{wire}{IC3.east}{low.west}{1182.3}\chRR{561}{1182.3}
\hw{gw}{IC3.east}{low.west}{1194.7}\chRR{561}{1194.7}
\end{tikzpicture}
\end{document}
